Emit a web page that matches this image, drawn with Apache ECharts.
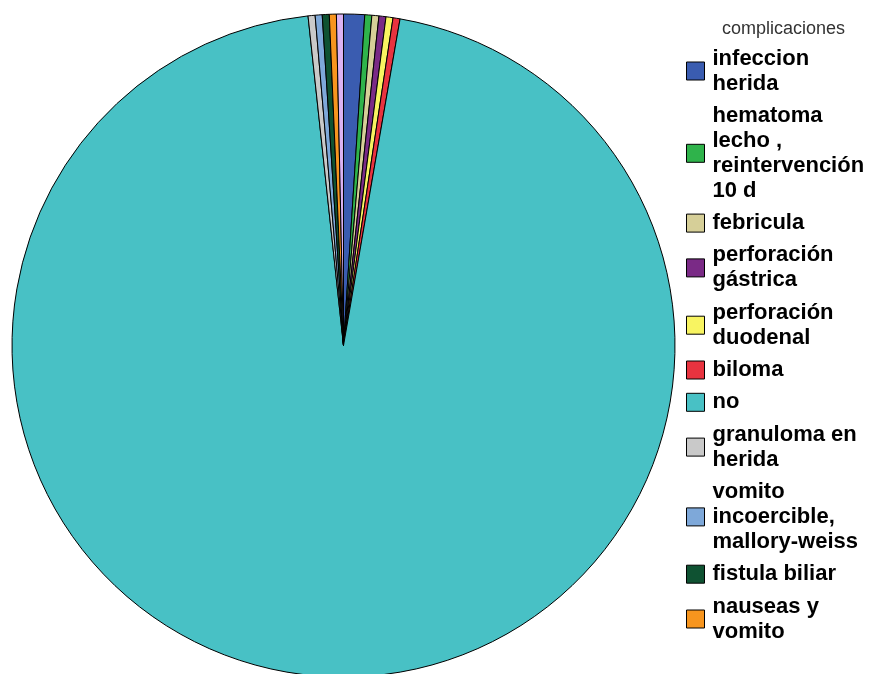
<!DOCTYPE html>
<html>
<head>
<meta charset="utf-8">
<script src="https://cdn.jsdelivr.net/npm/echarts@6/dist/echarts.min.js"></script>
<style>
  html, body { margin: 0; padding: 0; background: #fff; }
  #chart { width: 872px; height: 674px; }
</style>
</head>
<body>
<div id="chart"></div>
<script>
// Complication categories, in drawing order (clockwise from 12 o'clock)
const categories = [
  'infeccion herida',
  'hematoma lecho , reintervención 10 d',
  'febricula',
  'perforación gástrica',
  'perforación duodenal',
  'biloma',
  'no',
  'granuloma en herida',
  'vomito incoercible, mallory-weiss',
  'fistula biliar',
  'nauseas y vomito',
  'otras'
];
// Legend text, wrapped as it is shown
const legendLines = [
  'infeccion\nherida',
  'hematoma\nlecho ,\nreintervención\n10 d',
  'febricula',
  'perforación\ngástrica',
  'perforación\nduodenal',
  'biloma',
  'no',
  'granuloma en\nherida',
  'vomito\nincoercible,\nmallory-weiss',
  'fistula biliar',
  'nauseas y\nvomito',
  ''
];
// Patient counts
const counts = [3, 1, 1, 1, 1, 1, 280, 1, 1, 1, 1, 1];
const colors = ['#3a5cb0', '#2fb34b', '#d6cf98', '#7a2a86', '#f8f461', '#e8333f',
                '#48c1c5', '#c9c9c9', '#7ea8d9', '#0f5232', '#f7951e', '#dab2f2'];

const chart = echarts.init(document.getElementById('chart'), null, { renderer: 'canvas' });
const legendMap = {};
categories.forEach((c, i) => { legendMap[c] = legendLines[i]; });

chart.setOption({
  animation: false,
  color: colors,
  title: {
    text: 'complicaciones',
    left: 722,
    top: 20,
    padding: 0,
    textStyle: { fontFamily: 'Liberation Sans', fontSize: 18, fontWeight: 'normal', color: '#333' }
  },
  legend: {
    orient: 'vertical',
    left: 686,
    top: 46,
    padding: 0,
    itemWidth: 18,
    itemHeight: 18,
    itemGap: 7.3,
    icon: 'rect',
    data: categories.slice(0, 11),
    formatter: name => legendMap[name],
    itemStyle: { borderColor: '#000', borderWidth: 1 },
    textStyle: {
      fontFamily: 'Liberation Sans',
      fontSize: 22,
      fontWeight: 'bold',
      color: '#000',
      lineHeight: 25,
      padding: [0, 0, 0, 3]
    }
  },
  series: [{
    type: 'pie',
    center: [343.5, 345.5],
    radius: [0, 331.5],
    startAngle: 90,
    clockwise: true,
    label: { show: false },
    labelLine: { show: false },
    emphasis: { disabled: true },
    itemStyle: { borderColor: '#000', borderWidth: 1 },
    data: categories.map((c, i) => ({ name: c, value: counts[i] }))
  }]
});
</script>
</body>
</html>
